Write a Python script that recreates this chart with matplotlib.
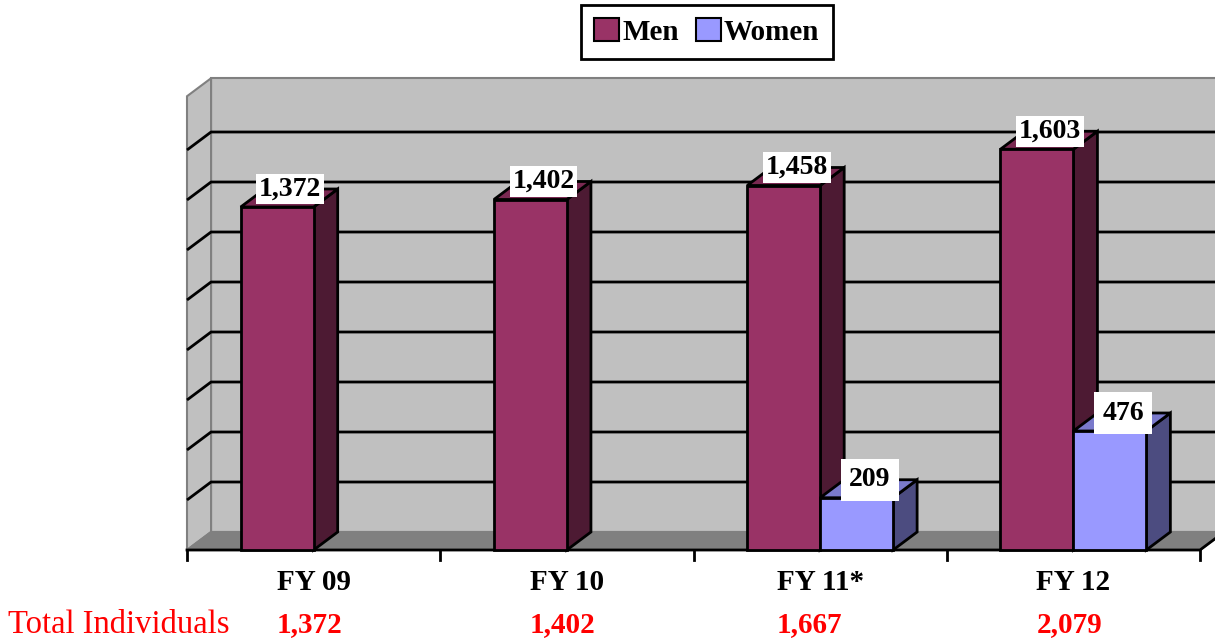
import matplotlib.pyplot as plt
from matplotlib.patches import Polygon, Rectangle, Patch

# data
categories = ['FY 09', 'FY 10', 'FY 11*', 'FY 12']
men = [1372, 1402, 1458, 1603]
women = [0, 0, 209, 476]
totals = [1372, 1402, 1667, 2079]
series_names = ['Men', 'Women']

# colours: front, top, side
men_cols = ('#993366', '#7a2952', '#4d1a33')
women_cols = ('#9999ff', '#7a7acc', '#4c4c80')

FONT = 'Liberation Serif'
YMAX = 1800
WALL_TOP = 1815
DX = 0.095   # depth offset in category units
DY = 72      # depth offset in value units
BAR_W = 0.288

fig = plt.figure(figsize=(12.15, 6.44), dpi=100)
ax = fig.add_axes([187 / 1215, 94 / 644, 1013 / 1215, 450 / 644])
ax.set_xlim(0, len(categories))
ax.set_ylim(0, YMAX)
ax.axis('off')

n = len(categories)


def poly(pts, fc, ec, lw=1.5, z=1):
    ax.add_patch(Polygon(pts, closed=True, facecolor=fc, edgecolor=ec,
                         linewidth=lw, zorder=z, clip_on=False, joinstyle='miter'))


# walls and floor
poly([(DX, DY), (n + DX, DY), (n + DX, WALL_TOP + DY), (DX, WALL_TOP + DY)], '#c0c0c0', '#808080')
poly([(0, 0), (DX, DY), (DX, WALL_TOP + DY), (0, WALL_TOP)], '#c0c0c0', '#808080')
poly([(0, 0), (n, 0), (n + DX, DY), (DX, DY)], '#808080', '#808080')

# gridlines on side and back wall
for v in range(200, YMAX, 200):
    ax.plot([0, DX, n + DX], [v, v + DY, v + DY], color='black', lw=2,
            zorder=2, clip_on=False, solid_capstyle='butt')

# x axis and ticks
ax.plot([0, n, n + DX], [0, 0, DY], color='black', lw=2, zorder=3, clip_on=False)
for i in range(n + 1):
    ax.plot([i, i], [0, -40], color='black', lw=2, zorder=3, clip_on=False)

# bars
z = 4
for i in range(n):
    for j, (vals, cols) in enumerate([(men, men_cols), (women, women_cols)]):
        v = vals[i]
        if v == 0:
            continue
        x0 = i + 0.5 - BAR_W + j * BAR_W
        x1 = x0 + BAR_W
        poly([(x1, 0), (x1 + DX, DY), (x1 + DX, v + DY), (x1, v)], cols[2], 'black', 2, z)
        poly([(x0, v), (x1, v), (x1 + DX, v + DY), (x0 + DX, v + DY)], cols[1], 'black', 2, z)
        ax.add_patch(Rectangle((x0, 0), BAR_W, v, facecolor=cols[0], edgecolor='black',
                               linewidth=2, zorder=z, clip_on=False))
        pad = 0.1 if j == 0 else 0.3
        ax.text(x0 + BAR_W / 2 + 0.052, v + 72, f'{v:,}', ha='center', va='center',
                fontsize=20, fontweight='bold', family=FONT, zorder=z + 1,
                bbox=dict(boxstyle=f'square,pad={pad}', fc='white', ec='none'))
        z += 1

# category labels and totals row
cat_texts = []
for i, c in enumerate(categories):
    cat_texts.append(ax.text(i + 0.5, -128, c, ha='center', va='center', fontsize=21,
                             fontweight='bold', family=FONT))
ax.text(-0.707, -300, 'Total Individuals', ha='left', va='center', fontsize=23.5,
        color='red', family=FONT)

fig.canvas.draw()
r = fig.canvas.get_renderer()
inv = ax.transData.inverted()
for t, tot in zip(cat_texts, totals):
    bb = t.get_window_extent(r)
    xl = inv.transform((bb.x0, bb.y0))[0]
    ax.text(xl, -300, f'{tot:,}', ha='left', va='center', fontsize=21,
            fontweight='bold', color='red', family=FONT)

handles = [Patch(facecolor=men_cols[0], edgecolor='black', lw=1.5),
           Patch(facecolor=women_cols[0], edgecolor='black', lw=1.5)]
leg = fig.legend(handles, series_names, loc='upper center',
                 bbox_to_anchor=(707 / 1215, 1 - 5 / 644), ncol=2, fancybox=False,
                 edgecolor='black', framealpha=1,
                 prop={'family': FONT, 'weight': 'bold', 'size': 21},
                 handlelength=0.85, handleheight=0.85, handletextpad=0.1,
                 columnspacing=0.6, borderpad=0.45, borderaxespad=0)
leg.get_frame().set_linewidth(2)

fig.savefig('out.png', dpi=100)
